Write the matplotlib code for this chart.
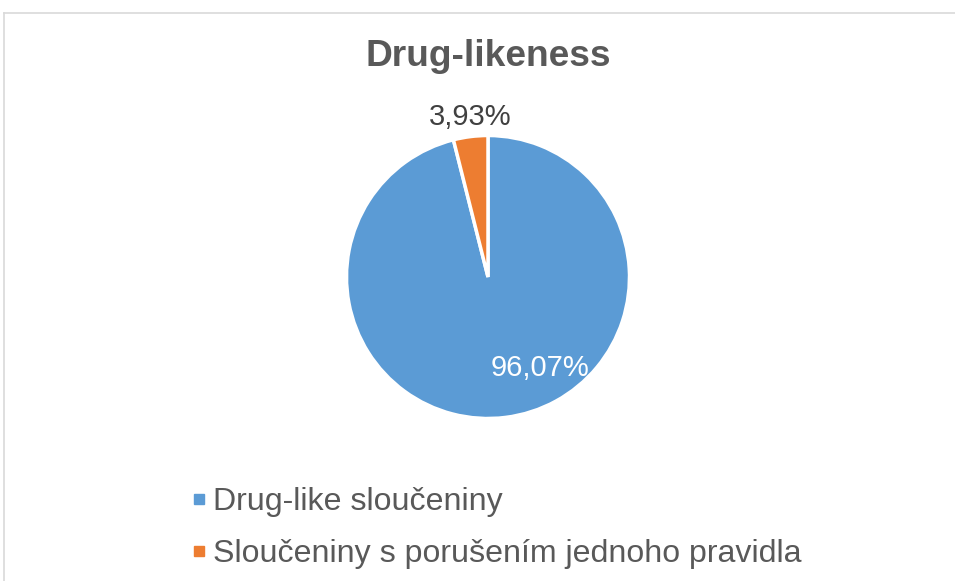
import matplotlib
matplotlib.use("Agg")
import matplotlib.pyplot as plt
from matplotlib.lines import Line2D

categories = ["Drug-like sloučeniny", "Sloučeniny s porušením jednoho pravidla"]
values = [96.07, 3.93]
colors = ["#5B9BD5", "#ED7D31"]
title = "Drug-likeness"

plt.rcParams['font.family'] = ['Liberation Sans', 'DejaVu Sans']

W, H = 955, 581
fig = plt.figure(figsize=(W / 100, H / 100), dpi=100)

# border (top and left visible)
fig.add_artist(Line2D([4 / W, 1], [1 - 13 / H, 1 - 13 / H], color="#D9D9D9", lw=1.2))
fig.add_artist(Line2D([4 / W, 4 / W], [0, 1 - 13 / H], color="#D9D9D9", lw=1.2))

cx, cy, r = 488, 277, 141.5
ax = fig.add_axes([(cx - r) / W, (H - cy - r) / H, 2 * r / W, 2 * r / H])
wedges, _ = ax.pie(values, colors=colors, startangle=90, counterclock=False,
                   radius=1, wedgeprops=dict(edgecolor="white", linewidth=2.5))
ax.set_xlim(-1, 1)
ax.set_ylim(-1, 1)
ax.set_aspect("equal")
ax.axis("off")

def fmt(v):
    return f"{v:.2f}".replace(".", ",") + "%"

label_pos = [(0.367, -0.643), (-0.127, 1.131)]
label_col = ["white", "#404040"]
for v, (x, y), c in zip(values, label_pos, label_col):
    ax.text(x, y, fmt(v), ha="center", va="center", fontsize=21, color=c, clip_on=False)

fig.text(cx / W, 1 - 56 / H, title, ha="center", va="center", fontsize=26.7,
         fontweight="bold", color="#595959")

handles = [Line2D([], [], marker="s", linestyle="none", markersize=6.8, color=c) for c in colors]
leg = fig.legend(handles, categories, loc="upper left", bbox_to_anchor=(191 / W, 1 - 487 / H),
                 frameon=False, fontsize=23.1, handlelength=0.5, handletextpad=0.2,
                 labelspacing=0.68, borderaxespad=0, borderpad=0)
for t in leg.get_texts():
    t.set_color("#595959")

fig.savefig("out.png", dpi=100)
